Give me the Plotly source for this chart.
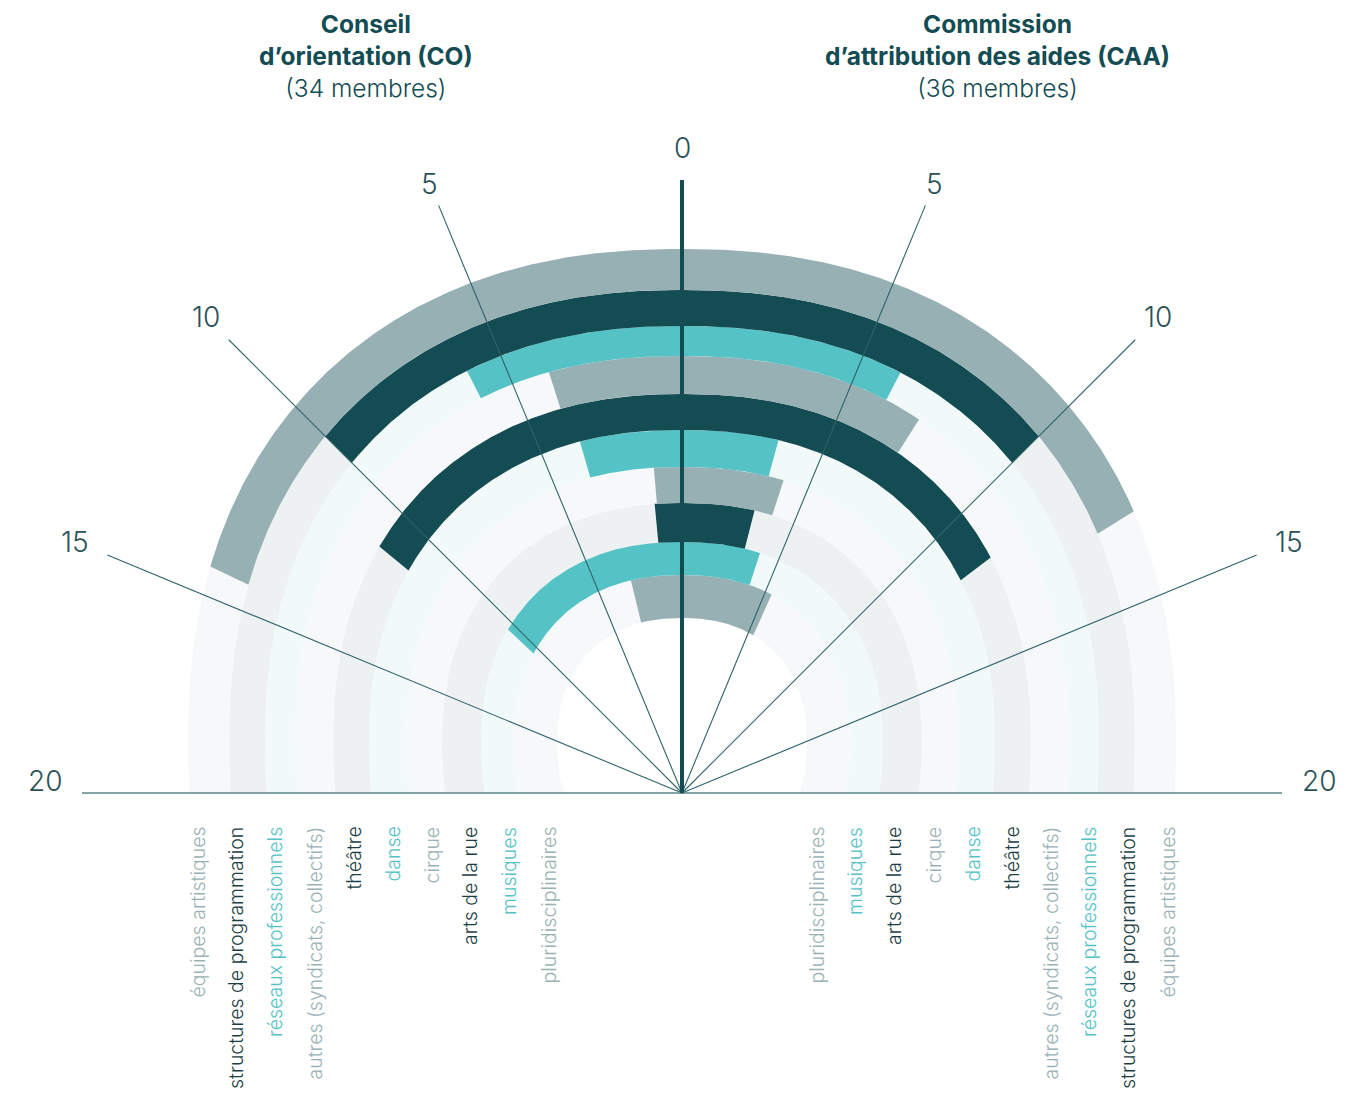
import numpy as np
import plotly.graph_objects as go

# ---------------- data ----------------
categories = [
    "pluridisciplinaires", "musiques", "arts de la rue", "cirque", "danse",
    "théâtre", "autres (syndicats, collectifs)", "réseaux professionnels",
    "structures de programmation", "équipes artistiques",
]
category_group = ["gray", "teal", "dark", "gray", "teal", "dark", "gray", "teal", "dark", "gray"]
co_values = [3.0, 10.4, 1.2, 1.1, 3.6, 11.3, 3.9, 6.0, 10.0, 14.3]
caa_values = [5.4, 4.0, 3.2, 4.0, 3.4, 11.7, 7.2, 6.1, 10.0, 12.9]
tick_values = [0, 5, 10, 15, 20]
tick_labels = ["0", "5", "10", "15", "20"]
co_title = "<b>Conseil<br>d’orientation (CO)</b><br>(34 membres)"
caa_title = "<b>Commission<br>d’attribution des aides (CAA)</b><br>(36 membres)"

# ---------------- styles / geometry ----------------
W, H = 1366, 1093
CX, CY = 682, 793                      # chart centre on the page (pixels)
MAX_VALUE = 20
DEG_PER_UNIT = 90.0 / MAX_VALUE
ARC_OFFSET = 50                        # arcs are centred slightly above the baseline
EXPONENT = 2.25                        # slightly squarish arcs
RING_TOP = [175, 218, 251, 290, 326, 363, 399, 437, 467, 503, 544]
TICK_LEN = [613, 636, 641, 622, 600]
TICK_LABEL_R = [645, 659, 673, 657, 637]
LABEL_R = np.linspace(134, 485, len(categories))

BAR_COLORS = {"gray": "#97b0b4", "teal": "#55c3c6", "dark": "#134c53"}
BAND_COLORS = {"gray": "#f6f8f9", "teal": "#f1f9f9", "dark": "#edf1f1"}
TEXT_COLORS = {"gray": "#9ab2b6", "teal": "#55c3c6", "dark": "#1b3e43"}
LINE_COLOR = "#2f6369"
FONT = "Inter"


def ray_radius(a, psi_deg):
    """distance from the centre to the arc of size a along direction psi (0 = up)."""
    psi = np.radians(np.asarray(psi_deg, dtype=float))
    lo = np.zeros_like(psi)
    hi = np.full_like(psi, 2.5 * a)
    for _ in range(60):
        mid = (lo + hi) / 2
        f = (np.abs(mid * np.sin(psi) / a) ** EXPONENT
             + np.abs((mid * np.cos(psi) - ARC_OFFSET) / a) ** EXPONENT - 1)
        hi = np.where(f > 0, mid, hi)
        lo = np.where(f > 0, lo, mid)
    return (lo + hi) / 2


def ring_polygon(k, psi_from, psi_to, n=200):
    psi = np.linspace(psi_from, psi_to, n)
    a_in = RING_TOP[k] - ARC_OFFSET
    a_out = RING_TOP[k + 1] - ARC_OFFSET
    r_out = ray_radius(a_out, psi)
    r_in = ray_radius(a_in, psi)
    rad = np.radians(psi)
    x = np.concatenate([r_out * np.sin(rad), (r_in * np.sin(rad))[::-1]])
    y = np.concatenate([r_out * np.cos(rad), (r_in * np.cos(rad))[::-1]])
    return np.append(x, x[0]), np.append(y, y[0])


fig = go.Figure()

# background bands (one per category)
for k, g in enumerate(category_group):
    x, y = ring_polygon(k, -90, 90, 400)
    fig.add_trace(go.Scatter(x=x, y=y, mode="lines", fill="toself",
                             fillcolor=BAND_COLORS[g], line=dict(width=0),
                             hoverinfo="skip", showlegend=False))

# bars: CO on the left, CAA on the right
for k, g in enumerate(category_group):
    for side, vals, name in ((-1, co_values, "CO"), (1, caa_values, "CAA")):
        ang = vals[k] * DEG_PER_UNIT
        x, y = ring_polygon(k, 0, side * ang) if side > 0 else ring_polygon(k, side * ang, 0)
        fig.add_trace(go.Scatter(x=x, y=y, mode="lines", fill="toself",
                                 fillcolor=BAR_COLORS[g], line=dict(width=0),
                                 name=f"{name} – {categories[k]}: {vals[k]}",
                                 hoverinfo="name", showlegend=False))

# radial tick lines
for v, L in zip(tick_values, TICK_LEN):
    if v == 0:
        continue
    for side in (-1, 1):
        psi = np.radians(side * v * DEG_PER_UNIT)
        lw = 1.5 if v == MAX_VALUE else 1.1
        col = "#5b8489" if v == MAX_VALUE else LINE_COLOR
        fig.add_trace(go.Scatter(x=[0, L * np.sin(psi)], y=[0, L * np.cos(psi)],
                                 mode="lines", line=dict(color=col, width=lw),
                                 hoverinfo="skip", showlegend=False))
# zero axis
fig.add_trace(go.Scatter(x=[0, 0], y=[0, TICK_LEN[0]], mode="lines",
                         line=dict(color="#134c53", width=4),
                         hoverinfo="skip", showlegend=False))

annotations = []
# tick labels
for v, lab, R in zip(tick_values, tick_labels, TICK_LABEL_R):
    sides = (1,) if v == 0 else (-1, 1)
    for side in sides:
        psi = np.radians(side * v * DEG_PER_UNIT)
        annotations.append(dict(
            x=R * np.sin(psi), y=R * np.cos(psi) + (12 if v == MAX_VALUE else 0),
            text=lab, showarrow=False, xanchor="center", yanchor="middle",
            font=dict(family=FONT, size=28, color="#2b5258", weight=300)))

# category labels, rotated, under the baseline
for k, cat in enumerate(categories):
    for side in (-1, 1):
        annotations.append(dict(
            x=side * LABEL_R[k], y=-32, text=cat, textangle=-90,
            showarrow=False, xanchor="center", yanchor="top",
            font=dict(family=FONT, size=19.5, color=TEXT_COLORS[category_group[k]], weight=300)))

# titles
for txt, xpos in ((co_title, -316), (caa_title, 315)):
    annotations.append(dict(
        x=xpos, y=CY - 56, text=txt, showarrow=False, xanchor="center", yanchor="middle",
        align="center",
        font=dict(family=FONT, size=24.5, color="#134c53", weight=300)))

fig.update_layout(
    width=W, height=H, margin=dict(l=0, r=0, t=0, b=0),
    paper_bgcolor="white", plot_bgcolor="white",
    xaxis=dict(range=[-CX, W - CX], visible=False, fixedrange=True),
    yaxis=dict(range=[CY - H, CY], visible=False, fixedrange=True),
    annotations=annotations, showlegend=False,
)

fig.write_html("out.html", config={"displayModeBar": False},
               post_script="document.body.style.margin='0';document.body.style.overflow='hidden';")
